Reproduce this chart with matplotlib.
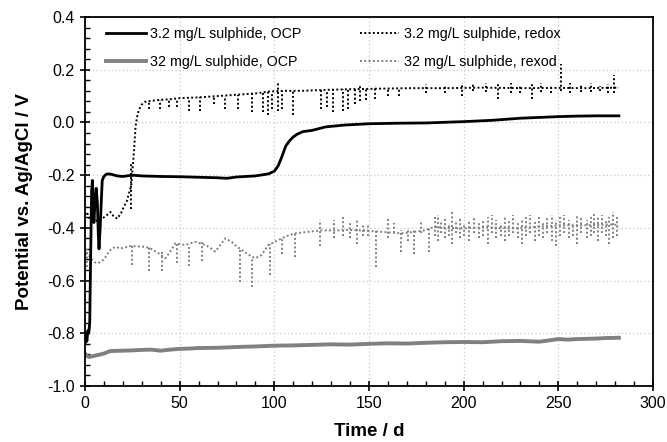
import matplotlib
matplotlib.use("Agg")
import matplotlib.pyplot as plt
from matplotlib.ticker import MultipleLocator, FormatStrFormatter

plt.rcParams['font.family'] = ['Liberation Sans', 'DejaVu Sans']

# ---- 3.2 mg/L sulphide, OCP (black solid)
ocp32_t = [0, 0.5, 1, 1.5, 2, 2.5, 3, 3.5, 3.9, 4.3, 4.7, 5.3, 5.9, 6.5, 7, 7.4, 8, 8.6, 9.1, 10, 11, 12, 14, 17,
           20, 25, 30, 40, 50, 60, 70, 75, 80, 90, 97, 100, 102, 104, 106, 108, 110, 112, 115, 120, 127, 137,
           150, 165, 180, 200, 215, 230, 240, 250, 260, 270, 282]
ocp32_v = [-0.84, -0.81, -0.83, -0.79, -0.80, -0.76, -0.50, -0.26, -0.22, -0.30, -0.38, -0.30, -0.25, -0.30,
           -0.42, -0.48, -0.40, -0.30, -0.22, -0.205, -0.198, -0.195, -0.197, -0.203, -0.205, -0.20, -0.203,
           -0.205, -0.206, -0.208, -0.210, -0.212, -0.207, -0.203, -0.195, -0.185, -0.165, -0.13, -0.09, -0.07,
           -0.055, -0.045, -0.035, -0.03, -0.017, -0.010, -0.005, -0.003, -0.002, 0.003, 0.008, 0.016, 0.019,
           0.022, 0.024, 0.025, 0.025]

# ---- 3.2 mg/L sulphide, redox (black dotted)
red32_t = [0, 1, 2, 3, 5, 7, 9, 11, 13.5, 15, 17, 19, 20.5, 22, 23.2, 24.4, 25.2, 25.8, 26.7, 27.5, 28.4, 30,
           32, 35, 39, 45, 50, 60, 70, 80, 90, 97, 105, 115, 125, 140, 155, 172, 190, 210, 230, 250, 265, 282]
red32_v = [-0.35, -0.34, -0.36, -0.37, -0.37, -0.375, -0.365, -0.355, -0.34, -0.355, -0.365, -0.345, -0.32,
           -0.30, -0.27, -0.24, -0.17, -0.117, -0.016, 0.02, 0.047, 0.068, 0.079, 0.082, 0.085, 0.088, 0.092,
           0.095, 0.100, 0.105, 0.110, 0.117, 0.12, 0.12, 0.123, 0.126, 0.128, 0.13, 0.13, 0.132, 0.13, 0.131,
           0.13, 0.132]
red32_spk_t = [24.4, 33.7, 39.8, 44.2, 48.6, 54.7, 60.9, 67.9, 74, 81, 88, 94.2, 96.8, 98.6, 102.1, 103.8, 110,
               124.9, 128, 131, 136.3, 139, 142.5, 145, 148.4, 153, 160, 166, 180, 190, 199, 205, 212, 218, 225,
               230, 236, 241, 246, 251.5, 256, 262, 267, 272, 276, 279.5]
red32_spk_lo = [-0.33, 0.05, 0.05, 0.06, 0.06, 0.045, 0.045, 0.07, 0.05, 0.05, 0.04, 0.04, 0.03, 0.05, 0.045,
                0.05, 0.03, 0.05, 0.06, 0.04, 0.045, 0.05, 0.07, 0.08, 0.085, 0.09, 0.10, 0.10, 0.11, 0.11, 0.10,
                0.12, 0.115, 0.09, 0.11, 0.11, 0.09, 0.115, 0.11, 0.12, 0.11, 0.115, 0.115, 0.12, 0.11, 0.11]
red32_spk_hi = [-0.15, 0.08, 0.085, 0.085, 0.09, 0.092, 0.095, 0.098, 0.10, 0.105, 0.11, 0.112, 0.115, 0.117,
                0.155, 0.12, 0.12, 0.123, 0.124, 0.125, 0.125, 0.126, 0.127, 0.145, 0.128, 0.14, 0.13, 0.13,
                0.145, 0.14, 0.15, 0.145, 0.15, 0.15, 0.15, 0.14, 0.145, 0.15, 0.14, 0.22, 0.15, 0.145, 0.15,
                0.14, 0.145, 0.18]

# ---- 32 mg/L sulphide, OCP (grey solid)
ocp320_t = [0, 1, 2, 4, 7, 10, 13, 15, 20, 25, 30, 35, 40, 45, 50, 55, 60, 70, 80, 90, 100, 110, 120, 130, 140,
            150, 160, 170, 180, 190, 200, 210, 220, 230, 240, 245, 250, 255, 260, 265, 270, 275, 282]
ocp320_v = [-0.877, -0.885, -0.89, -0.887, -0.882, -0.877, -0.868, -0.867, -0.866, -0.865, -0.863, -0.862,
            -0.866, -0.862, -0.859, -0.858, -0.856, -0.855, -0.852, -0.850, -0.847, -0.846, -0.844, -0.842,
            -0.843, -0.840, -0.838, -0.839, -0.836, -0.834, -0.833, -0.834, -0.830, -0.829, -0.832, -0.827,
            -0.822, -0.824, -0.822, -0.821, -0.82, -0.818, -0.817]

# ---- 32 mg/L sulphide, redox (grey dotted)
red320_t = [0, 0.5, 1.5, 3, 5, 6.5, 8, 10, 12.6, 14, 16.1, 18.8, 21, 23.2, 27, 31.9, 35, 38.9, 42.5, 45, 47.7,
            50, 53, 58.3, 63.5, 66, 68.8, 71, 74, 77.5, 80, 84, 88, 90, 93.3, 96.8, 100.3, 103.8, 107, 110.9,
            117.9, 124.9, 132, 139, 147, 156.5, 167, 174, 179, 184.6, 191, 198.6, 210, 226.7, 240, 253, 265,
            279.3, 282]
red320_v = [-0.52, -0.49, -0.50, -0.515, -0.53, -0.534, -0.53, -0.52, -0.49, -0.48, -0.472, -0.478, -0.475,
            -0.469, -0.47, -0.472, -0.48, -0.497, -0.515, -0.49, -0.459, -0.462, -0.465, -0.453, -0.465, -0.475,
            -0.49, -0.47, -0.44, -0.453, -0.47, -0.49, -0.509, -0.515, -0.503, -0.465, -0.453, -0.44, -0.43,
            -0.421, -0.415, -0.41, -0.41, -0.408, -0.41, -0.415, -0.421, -0.415, -0.41, -0.396, -0.40, -0.402,
            -0.398, -0.402, -0.395, -0.39, -0.39, -0.387, -0.39]
red320_spk_t = [0.8, 24.9, 33.7, 40.7, 48.6, 54.7, 61.7, 81.9, 88, 97.7, 103.8, 110.9, 124.2, 131.7, 136.4,
                140, 143.4, 147, 149.5, 153.9, 160, 163, 167, 170.5, 174, 177.5, 181.9,
                185, 186.5, 188, 190, 192, 194, 196, 198, 200, 203, 205.5, 208, 210, 213, 215, 217, 219.5, 222,
                224, 226, 228.5, 231, 233, 235, 237.5, 240, 242, 244, 246.5, 249, 251, 253, 255.5, 258, 260,
                262, 265, 267, 269, 271, 273, 275, 277, 279, 281]
red320_spk_lo = [-0.55, -0.54, -0.565, -0.565, -0.534, -0.546, -0.527, -0.604, -0.623, -0.58, -0.50, -0.51,
                 -0.47, -0.44, -0.43, -0.44, -0.46, -0.43, -0.43, -0.547, -0.44, -0.42, -0.49, -0.45, -0.50,
                 -0.42, -0.49,
                 -0.43, -0.45, -0.42, -0.44, -0.43, -0.46, -0.42, -0.44, -0.43, -0.45, -0.42, -0.44, -0.43,
                 -0.46, -0.42, -0.44, -0.43, -0.45, -0.43, -0.42, -0.44, -0.46, -0.43, -0.42, -0.45, -0.43,
                 -0.44, -0.42, -0.45, -0.47, -0.43, -0.42, -0.44, -0.43, -0.46, -0.42, -0.44, -0.43, -0.42,
                 -0.45, -0.42, -0.43, -0.46, -0.44, -0.43]
red320_spk_hi = [-0.48, -0.47, -0.47, -0.49, -0.46, -0.465, -0.455, -0.48, -0.51, -0.46, -0.44, -0.42, -0.37,
                 -0.37, -0.36, -0.38, -0.37, -0.39, -0.39, -0.41, -0.36, -0.38, -0.41, -0.40, -0.41, -0.37,
                 -0.40,
                 -0.36, -0.35, -0.37, -0.36, -0.38, -0.335, -0.37, -0.36, -0.38, -0.37, -0.36, -0.38, -0.37,
                 -0.36, -0.35, -0.37, -0.38, -0.36, -0.37, -0.35, -0.38, -0.37, -0.36, -0.35, -0.37, -0.36,
                 -0.38, -0.36, -0.35, -0.37, -0.36, -0.35, -0.37, -0.38, -0.35, -0.36, -0.37, -0.35, -0.34,
                 -0.36, -0.35, -0.37, -0.36, -0.34, -0.36]

labels = ["3.2 mg/L sulphide, OCP", "3.2 mg/L sulphide, redox",
          "32 mg/L sulphide, OCP", "32 mg/L sulphide, rexod"]

BLACK = "#000000"
GREY = "#808080"
DOT = (0, (1, 1.2))

fig = plt.figure(figsize=(6.67, 4.42), dpi=100)
ax = fig.add_axes([85 / 667, 56 / 442, 568 / 667, 369 / 442])

ax.vlines(red320_spk_t, red320_spk_lo, red320_spk_hi, colors=GREY, linestyles=DOT, linewidth=1.4)
h4, = ax.plot(red320_t, red320_v, color=GREY, linestyle=DOT, linewidth=1.4)
h3, = ax.plot(ocp320_t, ocp320_v, color=GREY, linewidth=2.8)
ax.vlines(red32_spk_t, red32_spk_lo, red32_spk_hi, colors=BLACK, linestyles=DOT, linewidth=1.4)
h2, = ax.plot(red32_t, red32_v, color=BLACK, linestyle=DOT, linewidth=1.4)
h1, = ax.plot(ocp32_t, ocp32_v, color=BLACK, linewidth=2.0)

ax.set_xlim(0, 300)
ax.set_ylim(-1.0, 0.4)
ax.xaxis.set_major_locator(MultipleLocator(50))
ax.xaxis.set_minor_locator(MultipleLocator(10))
ax.yaxis.set_major_locator(MultipleLocator(0.2))
ax.yaxis.set_minor_locator(MultipleLocator(0.04))
ax.yaxis.set_major_formatter(FormatStrFormatter('%.1f'))
ax.tick_params(which='major', direction='inout', length=7, width=1.2, labelsize=11.5, pad=4)
ax.tick_params(which='minor', direction='in', length=3.5, width=1.0)
ax.grid(True, which='major', color='#c8c8c8', linestyle=(0, (1, 2)), linewidth=0.9)
for s in ax.spines.values():
    s.set_linewidth(1.3)

ax.set_xlabel("Time / d", fontsize=13.5, fontweight='bold', labelpad=8)
ax.set_ylabel("Potential vs. Ag/AgCl / V", fontsize=13.5, fontweight='bold', labelpad=10)

leg = ax.legend([h1, h3, h2, h4], [labels[0], labels[2], labels[1], labels[3]], ncol=2, loc='upper left',
                bbox_to_anchor=(0.02, 1.0), frameon=False, fontsize=10.3, handlelength=2.75,
                handletextpad=0.3, columnspacing=4.1, labelspacing=1.0, borderaxespad=0.3)

fig.savefig("out.png", dpi=100)
